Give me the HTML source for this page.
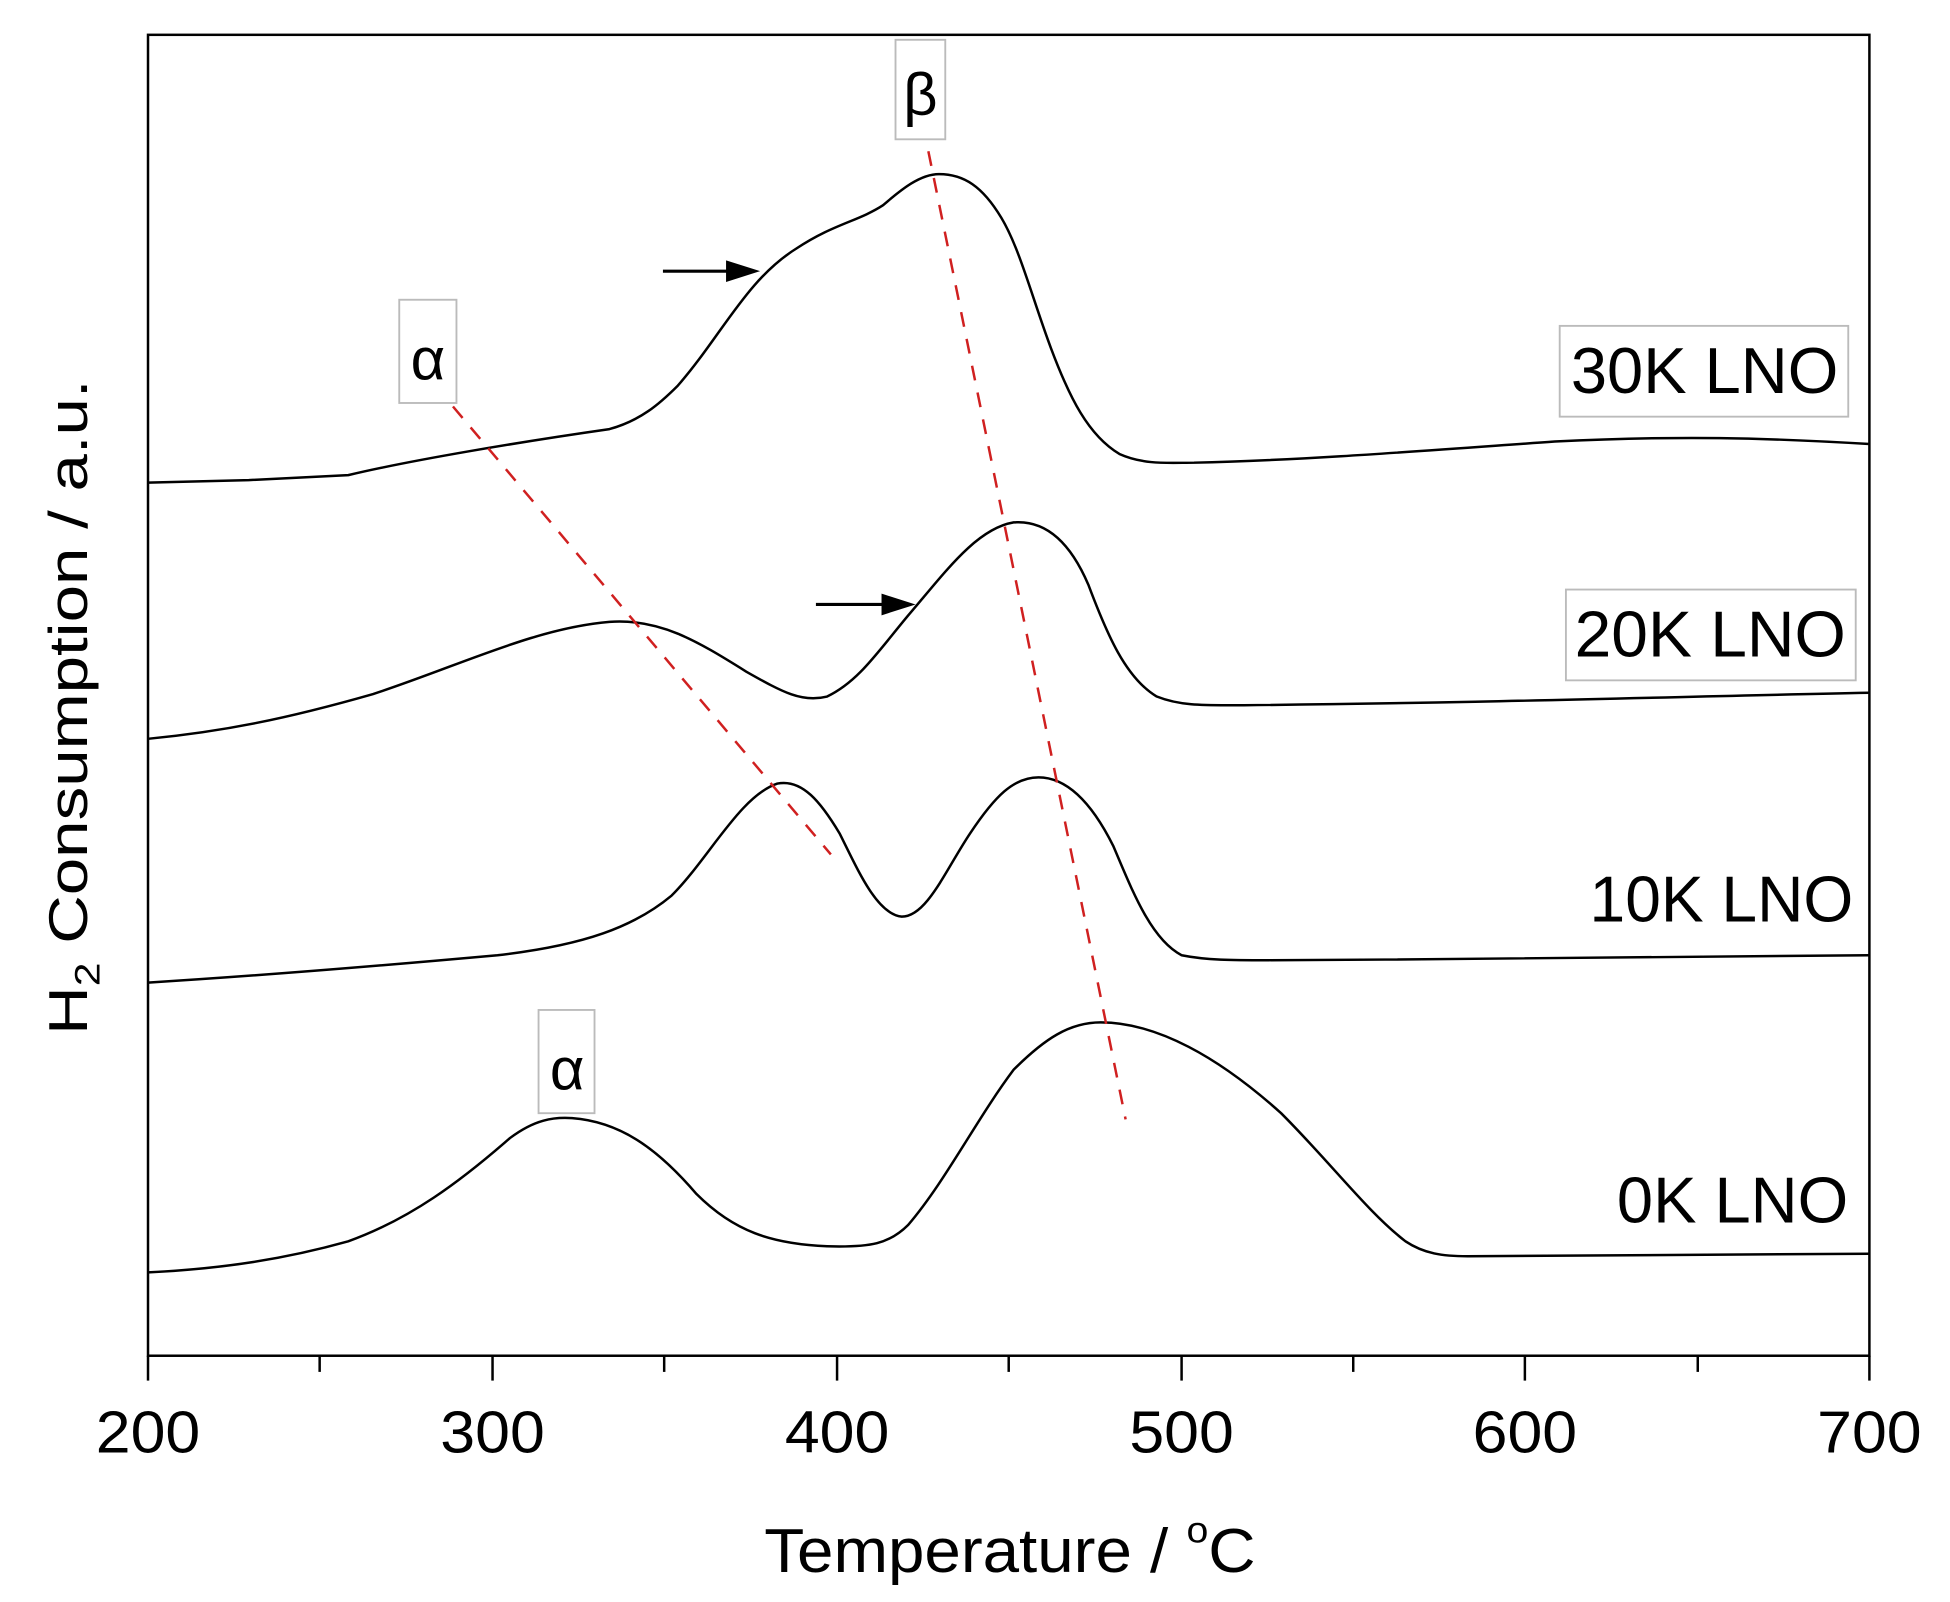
<!DOCTYPE html>
<html><head><meta charset="utf-8"><style>html,body{margin:0;padding:0;background:#fff}svg{display:block}</style></head>
<body>
<svg width="1950" height="1602" viewBox="0 0 1567.8 1288" preserveAspectRatio="none" xmlns="http://www.w3.org/2000/svg" font-family="Liberation Sans, Arial, sans-serif">
<rect x="119" y="28" width="1384" height="1062" fill="none" stroke="#000" stroke-width="2"/>
<g stroke="#000" stroke-width="2">
<line x1="119" y1="1090" x2="119" y2="1110"/><line x1="257" y1="1090" x2="257" y2="1103"/>
<line x1="396" y1="1090" x2="396" y2="1110"/><line x1="534" y1="1090" x2="534" y2="1103"/>
<line x1="673" y1="1090" x2="673" y2="1110"/><line x1="811" y1="1090" x2="811" y2="1103"/>
<line x1="950" y1="1090" x2="950" y2="1110"/><line x1="1088" y1="1090" x2="1088" y2="1103"/>
<line x1="1226" y1="1090" x2="1226" y2="1110"/><line x1="1365" y1="1090" x2="1365" y2="1103"/>
<line x1="1503" y1="1090" x2="1503" y2="1110"/>
</g>
<g font-size="48" text-anchor="middle" fill="#000">
<text x="119" y="1168" textLength="84" lengthAdjust="spacingAndGlyphs">200</text><text x="396" y="1168" textLength="84" lengthAdjust="spacingAndGlyphs">300</text><text x="673" y="1168" textLength="84" lengthAdjust="spacingAndGlyphs">400</text>
<text x="950" y="1168" textLength="84" lengthAdjust="spacingAndGlyphs">500</text><text x="1226" y="1168" textLength="84" lengthAdjust="spacingAndGlyphs">600</text><text x="1503" y="1168" textLength="84" lengthAdjust="spacingAndGlyphs">700</text>
</g>
<text x="812" y="1264" font-size="50" text-anchor="middle" textLength="395" lengthAdjust="spacingAndGlyphs">Temperature / <tspan dy="-24" font-size="30">o</tspan><tspan dy="24">C</tspan></text>
<text transform="translate(70,832) rotate(-90)" font-size="44" textLength="527" lengthAdjust="spacingAndGlyphs">H<tspan dy="10" font-size="28">2</tspan><tspan dy="-10"> Consumption / a.u.</tspan></text>
<g fill="none" stroke="#000" stroke-width="2">
<path d="M119,388 L200,386 L280,382 C330,370 420,355 490,345 C515,338 530,325 545,310 C580,270 600,225 640,200 C670,180 690,178 710,165 C725,152 740,140 755,140 C775,140 790,150 805,175 C820,200 830,240 845,280 C860,320 875,350 900,365 C920,374 940,372 960,372 C1050,370 1150,362 1250,355 C1350,350 1420,352 1503,357"/>
<path d="M119,594 C180,588 230,578 300,558 C370,535 430,505 490,500 C530,497 560,515 600,540 C630,557 645,565 665,560 C690,548 705,525 730,495 C760,460 785,425 815,420 C840,418 860,435 875,470 C890,510 905,545 930,560 C950,568 970,567 1000,567 C1200,565 1350,560 1503,557"/>
<path d="M119,790 C200,785 300,777 400,768 C470,760 510,745 540,720 C570,690 595,640 625,630 C645,626 660,645 675,670 C690,700 705,735 725,737 C745,737 760,700 780,670 C800,640 815,625 835,625 C860,625 880,650 895,680 C910,715 925,755 950,768 C970,772 990,772 1020,772 C1200,771 1400,770 1503,768"/>
<path d="M119,1023 C180,1020 230,1012 280,998 C330,980 370,950 410,915 C430,900 445,898 460,899 C500,902 530,925 560,960 C590,990 620,1000 665,1002 C700,1003 715,1000 730,985 C760,950 785,900 815,860 C840,835 860,822 885,822 C930,822 980,850 1030,895 C1070,935 1100,975 1130,998 C1145,1008 1160,1010 1180,1010 L1503,1008"/>
</g>
<g stroke="#d02020" stroke-width="2" stroke-dasharray="12,10" fill="none">
<line x1="350" y1="310" x2="668" y2="687"/>
<line x1="742" y1="100" x2="905" y2="900"/>
</g>
<g stroke="#000" stroke-width="2.5" fill="#000">
<line x1="533" y1="218" x2="590" y2="218"/><polygon points="585,211 607,218 585,225"/>
<line x1="656" y1="486" x2="715" y2="486"/><polygon points="710,479 732,486 710,493"/>
</g>
<g fill="#fff" stroke="#bbb" stroke-width="1.5">
<rect x="720" y="32" width="40" height="80"/>
<rect x="321" y="241" width="46" height="83"/>
<rect x="433" y="812" width="45" height="83"/>
<rect x="1254" y="262" width="232" height="73"/>
<rect x="1259" y="474" width="233" height="73"/>
</g>
<g font-size="48" fill="#000" text-anchor="middle">
<text x="740" y="92">β</text>
<text x="344" y="305">α</text>
<text x="456" y="876">α</text>
</g>
<g font-size="52" fill="#000" text-anchor="end">
<text x="1478" y="316" textLength="215" lengthAdjust="spacingAndGlyphs">30K LNO</text>
<text x="1484" y="528" textLength="218" lengthAdjust="spacingAndGlyphs">20K LNO</text>
<text x="1490" y="741" textLength="212" lengthAdjust="spacingAndGlyphs">10K LNO</text>
<text x="1486" y="983" textLength="186" lengthAdjust="spacingAndGlyphs">0K LNO</text>
</g>
</svg>
</body></html>
